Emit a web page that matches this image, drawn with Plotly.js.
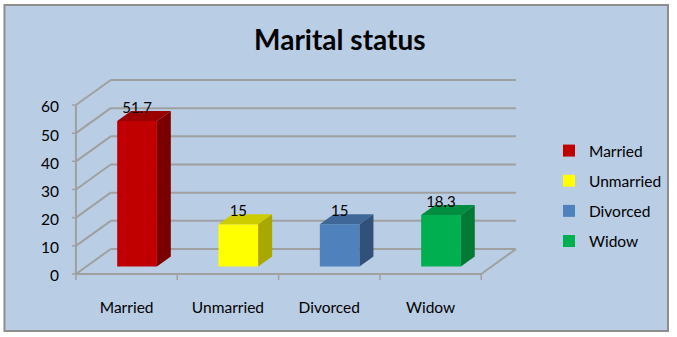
<!DOCTYPE html>
<html>
<head>
<meta charset="utf-8">
<script src="https://cdn.plot.ly/plotly-3.0.1.min.js"></script>
<style>html,body{margin:0;padding:0;background:#fff;}#chart{width:677px;height:337px;}</style>
</head>
<body>
<div id="chart"></div>
<script>
// ---- data ----
const categories = ["Married", "Unmarried", "Divorced", "Widow"];
const values = [51.7, 15, 15, 18.3];
const valueLabels = ["51.7", "15", "15", "18.3"];
const yTicks = [0, 10, 20, 30, 40, 50, 60];

// ---- styles ----
const frontColors = ["#C00000", "#FFFF00", "#4F81BD", "#00B050"];
const topColors   = ["#9A0000", "#CCCC00", "#3F6797", "#008D40"];
const sideColors  = ["#7A0000", "#A8A800", "#31507A", "#007A35"];
const gridColor = "#A0A0A0";
const font = "Lato, 'Open Sans', sans-serif";

// plot area in pixels
const PL = 70, PR = 667, PT = 75, PB = 293;
const PW = PR - PL, PH = PB - PT;
const XPX = 102, YPX = 2.8167; // px per unit

// 3D geometry (axis units)
const DX = 35 / XPX;
const DY = 25 / YPX;
const frontDepth = 0.3, sideDepth = 0.4;
const barW = 40 / XPX;

const traces = [];
categories.forEach((c, i) => {
  traces.push({
    type: "bar", name: c, x: [i + frontDepth * DX], y: [values[i]],
    base: [frontDepth * DY], width: barW,
    marker: { color: frontColors[i], line: { width: 0 } },
    legendgroup: c, showlegend: true, hoverinfo: "skip",
    xaxis: "x2", yaxis: "y2"
  });
});
categories.forEach((c, i) => {
  const xl = i + frontDepth * DX - barW / 2, xr = xl + barW;
  const b = frontDepth * DY, t = b + values[i];
  const sx = sideDepth * DX, sy = sideDepth * DY;
  traces.push({
    type: "scatter", mode: "lines", fill: "toself",
    x: [xl, xr, xr + sx, xl + sx, xl], y: [t, t, t + sy, t + sy, t],
    fillcolor: topColors[i], line: { width: 0, color: topColors[i] },
    showlegend: false, hoverinfo: "skip", xaxis: "x2", yaxis: "y2"
  });
  traces.push({
    type: "scatter", mode: "lines", fill: "toself",
    x: [xr, xr + sx, xr + sx, xr, xr], y: [b, b + sy, t + sy, t, b],
    fillcolor: sideColors[i], line: { width: 0, color: sideColors[i] },
    showlegend: false, hoverinfo: "skip", xaxis: "x2", yaxis: "y2"
  });
});
traces.push({
  type: "scatter", mode: "text",
  x: categories.map((c, i) => i + frontDepth * DX),
  y: values.map(v => frontDepth * DY + v + 4.3),
  text: valueLabels, textposition: "middle center",
  textfont: { family: font, size: 15, color: "#000" },
  showlegend: false, hoverinfo: "skip", xaxis: "x2", yaxis: "y2"
});

const shapes = [];
const xL = -0.5, xR = categories.length - 0.5;
const ln = (x0, y0, x1, y1, w) => ({ type: "line", xref: "x", yref: "y", x0, y0, x1, y1, layer: "below", line: { color: gridColor, width: w || 2 } });
yTicks.forEach(v => {
  shapes.push(ln(xL + DX, v + DY, xR + DX, v + DY));
  shapes.push(ln(xL, v, xL + DX, v + DY));
  shapes.push(ln(xL - 4 / XPX, v, xL, v, 1.5));
});
shapes.push(ln(xL, 0, xL, yTicks[yTicks.length - 1]));
shapes.push(ln(xL, 0, xR, 0));
shapes.push(ln(xR, 0, xR + DX, DY));
for (let k = 0; k <= categories.length; k++) {
  shapes.push(ln(xL + k, 0, xL + k, -6 / YPX, 1.5));
}
shapes.push({ type: "rect", xref: "paper", yref: "paper",
  x0: (4 - PL) / PW, x1: (672 - PL) / PW, y0: (PB - 331) / PH, y1: (PB - 5) / PH,
  layer: "below", fillcolor: "#B9CDE5", line: { color: "#8E8E8E", width: 2 } });

const x0r = -0.5 - (76 - PL) / XPX;
const xRange = [x0r, x0r + PW / XPX];
const yRange = [-(PB - 274) / YPX, (274 - PT) / YPX];

const layout = {
  width: 677, height: 337,
  margin: { l: PL, r: 677 - PR, t: PT, b: 337 - PB },
  paper_bgcolor: "#ffffff", plot_bgcolor: "rgba(0,0,0,0)",
  showlegend: true,
  title: { text: "<b>Marital status</b>", xref: "container", x: 0.502, y: 1 - 40 / 337, yanchor: "middle",
    font: { family: font, size: 28, color: "#000" } },
  xaxis: { range: xRange, tickvals: categories.map((c, i) => i), ticktext: categories,
    showgrid: false, zeroline: false, showline: false, ticks: "",
    tickfont: { family: font, size: 15.5, color: "#000" }, ticklabelstandoff: 3, fixedrange: true },
  yaxis: { range: yRange, tickvals: yTicks, showgrid: false, zeroline: false, showline: false, ticks: "",
    tickfont: { family: font, size: 15.5, color: "#000" }, ticklabelstandoff: 10, ticklabelshift: 2, fixedrange: true },
  xaxis2: { range: xRange, overlaying: "x", visible: false, fixedrange: true },
  yaxis2: { range: yRange, overlaying: "y", visible: false, fixedrange: true },
  barmode: "overlay",
  legend: { x: (671 - PL) / PW, xanchor: "right", y: (PB - 196) / PH, yanchor: "middle",
    bgcolor: "rgba(0,0,0,0)", traceorder: "grouped", tracegroupgap: 7,
    font: { family: font, size: 15.5, color: "#000" }, itemwidth: 30 },
  shapes: shapes
};

Plotly.newPlot("chart", traces, layout, { staticPlot: true, displayModeBar: false });
</script>
</body>
</html>
